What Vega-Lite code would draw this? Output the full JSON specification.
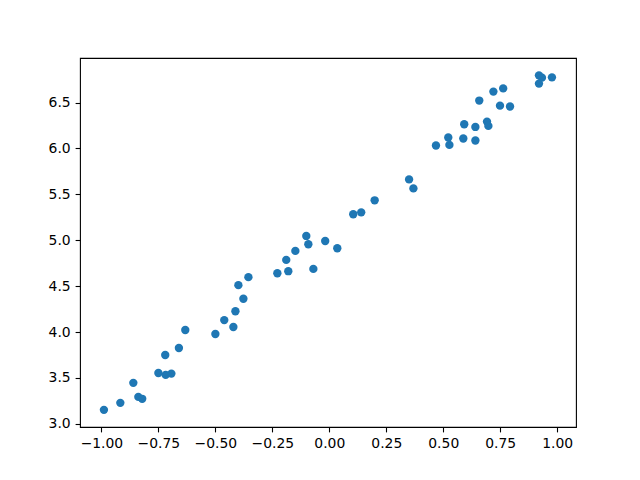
{
  "$schema": "https://vega.github.io/schema/vega-lite/v6.json",
  "autosize": "none",
  "width": 496,
  "height": 369,
  "padding": {"left": 80, "top": 58, "right": 64, "bottom": 53},
  "background": "white",
  "config": {
    "view": {"stroke": "black", "strokeWidth": 1.1},
    "axis": {
      "domain": false,
      "grid": false,
      "ticks": true,
      "tickSize": 4.9,
      "tickWidth": 1.1,
      "tickColor": "black",
      "labelFont": "DejaVu Sans",
      "labelFontSize": 13.9,
      "labelColor": "black",
      "labelPadding": 4.9,
      "title": null
    }
  },
  "data": {
    "values": [
      {"x": -0.989, "y": 3.152},
      {"x": -0.917, "y": 3.228},
      {"x": -0.860, "y": 3.446},
      {"x": -0.838, "y": 3.293},
      {"x": -0.821, "y": 3.272},
      {"x": -0.750, "y": 3.554},
      {"x": -0.718, "y": 3.533},
      {"x": -0.693, "y": 3.547},
      {"x": -0.720, "y": 3.750},
      {"x": -0.660, "y": 3.826},
      {"x": -0.632, "y": 4.022},
      {"x": -0.500, "y": 3.978},
      {"x": -0.461, "y": 4.130},
      {"x": -0.421, "y": 4.055},
      {"x": -0.412, "y": 4.226},
      {"x": -0.377, "y": 4.362},
      {"x": -0.399, "y": 4.511},
      {"x": -0.355, "y": 4.598},
      {"x": -0.228, "y": 4.641},
      {"x": -0.180, "y": 4.663},
      {"x": -0.189, "y": 4.786},
      {"x": -0.149, "y": 4.884},
      {"x": -0.101, "y": 5.047},
      {"x": -0.092, "y": 4.957},
      {"x": -0.070, "y": 4.688},
      {"x": -0.018, "y": 4.992},
      {"x": 0.035, "y": 4.913},
      {"x": 0.105, "y": 5.283},
      {"x": 0.140, "y": 5.304},
      {"x": 0.199, "y": 5.435},
      {"x": 0.350, "y": 5.663},
      {"x": 0.369, "y": 5.565},
      {"x": 0.468, "y": 6.033},
      {"x": 0.522, "y": 6.120},
      {"x": 0.527, "y": 6.039},
      {"x": 0.588, "y": 6.109},
      {"x": 0.592, "y": 6.264},
      {"x": 0.641, "y": 6.235},
      {"x": 0.641, "y": 6.087},
      {"x": 0.658, "y": 6.522},
      {"x": 0.692, "y": 6.293},
      {"x": 0.698, "y": 6.246},
      {"x": 0.720, "y": 6.620},
      {"x": 0.763, "y": 6.655},
      {"x": 0.749, "y": 6.467},
      {"x": 0.793, "y": 6.457},
      {"x": 0.920, "y": 6.797},
      {"x": 0.933, "y": 6.772},
      {"x": 0.920, "y": 6.707},
      {"x": 0.977, "y": 6.775}
    ]
  },
  "mark": {"type": "point", "filled": true, "opacity": 1, "color": "#1f77b4", "size": 70, "shape": "circle"},
  "encoding": {
    "x": {
      "field": "x",
      "type": "quantitative",
      "scale": {"domain": [-1.094, 1.0825], "nice": false, "zero": false},
      "axis": {"values": [-1, -0.75, -0.5, -0.25, 0, 0.25, 0.5, 0.75, 1], "format": ".2f"}
    },
    "y": {
      "field": "y",
      "type": "quantitative",
      "scale": {"domain": [2.965, 6.986], "nice": false, "zero": false},
      "axis": {"values": [3, 3.5, 4, 4.5, 5, 5.5, 6, 6.5], "format": ".1f"}
    }
  }
}
